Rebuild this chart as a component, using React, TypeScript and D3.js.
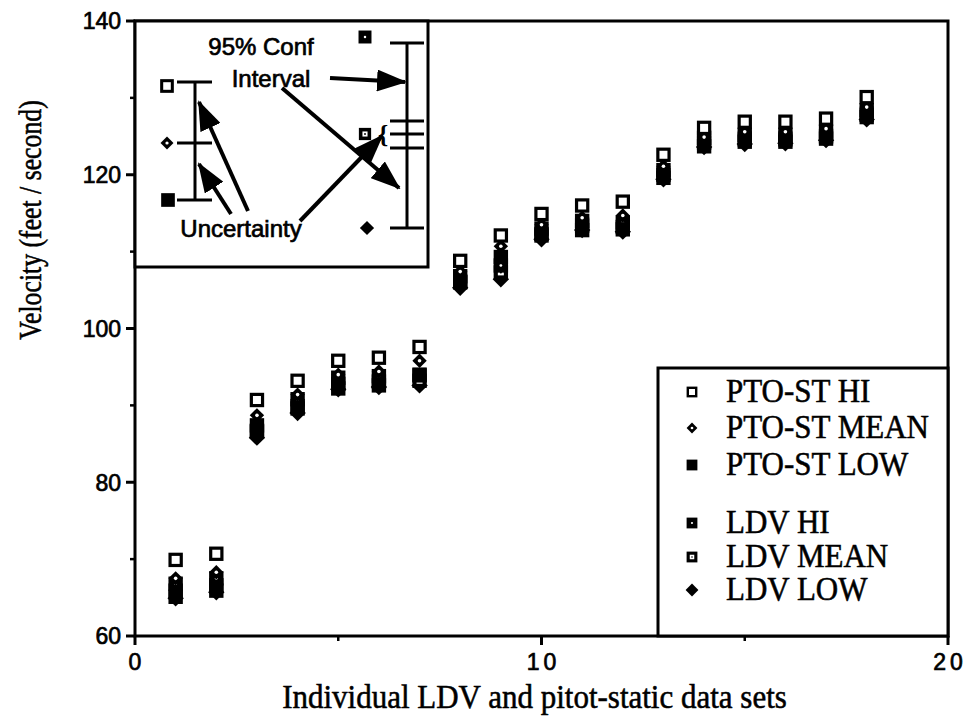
import React from "react";
import * as d3 from "d3";

const W = 969;
const H = 724;

// data sets 1..18
const dataSets = [1, 2, 3, 4, 5, 6, 7, 8, 9, 10, 11, 12, 13, 14, 15, 16, 17, 18];
const ptoHi = [69.9, 70.7, 90.7, 93.2, 95.8, 96.2, 97.6, 108.8, 112.1, 114.9, 116.0, 116.5, 122.6, 126.1, 126.9, 126.9, 127.3, 130.1];
const ptoMean = [67.5, 68.3, 88.7, 91.4, 94.0, 94.4, 95.8, 107.4, 110.7, 113.5, 114.4, 114.7, 121.1, 124.9, 125.6, 125.6, 126.0, 128.8];
const ptoLow = [65.1, 65.9, 86.7, 89.6, 92.2, 92.6, 94.0, 106.0, 109.3, 112.1, 112.8, 112.9, 119.6, 123.7, 124.3, 124.3, 124.7, 127.5];
const ldvHi = [66.8, 67.5, 87.4, 90.8, 93.6, 93.8, 93.9, 106.8, 108.2, 113.0, 114.0, 113.8, 120.6, 124.8, 125.2, 125.2, 125.6, 128.4];
const ldvMean = [65.9, 66.6, 86.6, 89.9, 92.8, 93.1, 93.2, 106.1, 107.3, 112.3, 113.4, 113.2, 120.0, 124.2, 124.6, 124.6, 125.0, 127.8];
const ldvLow = [64.9, 65.7, 85.8, 89.0, 92.1, 92.4, 92.6, 105.3, 106.4, 111.6, 112.8, 112.6, 119.4, 123.6, 124.0, 124.1, 124.5, 127.2];

const yTicks = [60, 80, 100, 120, 140];
const yMinorTicks = [70, 90, 110, 130];
const xTicks = [0, 10, 20];
const xMinorTicks = [5, 15];

const legendLabels = ["PTO-ST HI", "PTO-ST MEAN", "PTO-ST LOW", "LDV HI", "LDV MEAN", "LDV LOW"];
const legendKinds = ["openSquare", "openDiamond", "filledSquare", "dotSquare", "ringSquare", "filledDiamond"];

const xTitle = "Individual LDV and pitot-static data sets";
const yTitle = "Velocity  (feet / second)";

const margin = { left: 135, right: 21, top: 21, bottom: 88 };

function Marker({ kind, x, y, s = 1 }: { kind: string; x: number; y: number; s?: number }) {
  const h = 7.2 * s;
  switch (kind) {
    case "openSquare":
      return <rect x={x - h + 1.6 * s} y={y - h + 1.6 * s} width={2 * h - 3.2 * s} height={2 * h - 3.2 * s} fill="#fff" stroke="#000" strokeWidth={3.2 * s} />;
    case "openDiamond":
      return (
        <g>
          <path d={`M${x},${y - h}L${x + h},${y}L${x},${y + h}L${x - h},${y}Z`} fill="#000" />
          <circle cx={x} cy={y} r={1.8 * s} fill="#fff" />
        </g>
      );
    case "filledSquare":
      return <rect x={x - h} y={y - h} width={2 * h} height={2 * h} fill="#000" />;
    case "dotSquare":
      return (
        <g>
          <rect x={x - h} y={y - h} width={2 * h} height={2 * h} fill="#000" />
          <circle cx={x} cy={y} r={1.4 * s} fill="#fff" />
        </g>
      );
    case "ringSquare":
      return (
        <g>
          <rect x={x - h} y={y - h} width={2 * h} height={2 * h} fill="#000" />
          <rect x={x - 3 * s} y={y - 3 * s} width={6 * s} height={6 * s} fill="#fff" />
          <circle cx={x} cy={y} r={1.1 * s} fill="#000" />
        </g>
      );
    case "filledDiamond":
    default:
      return <path d={`M${x},${y - h - 1}L${x + h + 1},${y}L${x},${y + h + 1}L${x - h - 1},${y}Z`} fill="#000" />;
  }
}

export default function App() {
  const x = d3.scaleLinear().domain([0, 20]).range([margin.left, W - margin.right]);
  const y = d3.scaleLinear().domain([60, 140]).range([H - margin.bottom, margin.top]);
  const x0 = x(0), x1 = x(20), y0 = y(60), y1 = y(140);

  const drawSeries = [
    { vals: ldvLow, kind: "filledDiamond" },
    { vals: ldvMean, kind: "ringSquare" },
    { vals: ldvHi, kind: "dotSquare" },
    { vals: ptoLow, kind: "filledSquare" },
    { vals: ptoMean, kind: "openDiamond" },
    { vals: ptoHi, kind: "openSquare" },
  ];

  const sans = "'Liberation Sans', Arial, Helvetica, sans-serif";
  const serif = "'Liberation Serif', 'Times New Roman', serif";
  const thickS = { stroke: "#000", strokeWidth: 0.7, paintOrder: "stroke" } as any;
  const thickT = { stroke: "#000", strokeWidth: 0.5, paintOrder: "stroke" } as any;

  // inset box
  const inset = { x: x0, y: y1, w: 293, h: 246 };
  // legend box
  const lg = { x: 658, y: 368, w: x1 - 658, h: y0 - 368 };
  const legendY = [392, 428, 465, 523, 557, 590];

  const arrows: [number, number, number, number][] = [
    [248, 211, 199, 102],
    [231, 214, 199, 164],
    [330, 78, 405, 82],
    [282, 88, 399, 188],
    [300, 221, 382, 136],
  ];

  return (
    <div style={{ position: "absolute", left: 0, top: 0 }}>
      <svg width={W} height={H} style={{ display: "block", background: "#fff" }}>
        <defs>
          <marker id="ah" markerUnits="userSpaceOnUse" markerWidth={30} markerHeight={22} refX={28} refY={11} orient="auto">
            <path d="M0,0L30,11L0,22Z" fill="#000" />
          </marker>
        </defs>
        <rect x={0} y={0} width={W} height={H} fill="#fff" />

        {/* data */}
        {drawSeries.map((s, si) => (
          <g key={si}>
            {dataSets.map((d, i) => (
              <Marker key={i} kind={s.kind} x={x(d)} y={y(s.vals[i])} />
            ))}
          </g>
        ))}

        {/* frame */}
        <rect x={x0} y={y1} width={x1 - x0} height={y0 - y1} fill="none" stroke="#000" strokeWidth={3} />

        {/* y ticks */}
        {yTicks.map((t) => (
          <g key={t}>
            <line x1={x0 - 9} x2={x0} y1={y(t)} y2={y(t)} stroke="#000" strokeWidth={3} />
            <text x={x0 - 14} y={y(t)} dy="0.36em" textAnchor="end" fontFamily={sans} fontSize={23} {...thickS}>{t}</text>
          </g>
        ))}
        {yMinorTicks.map((t) => (
          <line key={t} x1={x0 - 5} x2={x0} y1={y(t)} y2={y(t)} stroke="#000" strokeWidth={2.5} />
        ))}
        {/* x ticks */}
        {xTicks.map((t) => (
          <g key={t}>
            <line x1={x(t)} x2={x(t)} y1={y0} y2={y0 + 9} stroke="#000" strokeWidth={3} />
            <text x={x(t) + (t === 0 ? 0 : 2)} y={y0 + 34} textAnchor="middle" fontFamily={sans} fontSize={23} letterSpacing={t === 0 ? 0 : 4} {...thickS}>{t}</text>
          </g>
        ))}
        {xMinorTicks.map((t) => (
          <line key={t} x1={x(t)} x2={x(t)} y1={y0} y2={y0 + 5} stroke="#000" strokeWidth={2.5} />
        ))}

        {/* titles */}
        <text transform={`translate(${(x0 + x1) / 2 - 7},708) scale(1,1.12)`} textAnchor="middle" fontFamily={serif} fontSize={31} {...thickT}>{xTitle}</text>
        <text transform={`translate(41,220) rotate(-90) scale(0.92,1.1)`} textAnchor="middle" fontFamily={serif} fontSize={28} {...thickT}>{yTitle}</text>

        {/* inset */}
        <g>
          <rect x={inset.x} y={inset.y} width={inset.w} height={inset.h} fill="#fff" stroke="#000" strokeWidth={3} />
          <Marker kind="openSquare" x={167} y={86} s={0.95} />
          <Marker kind="openDiamond" x={167} y={143} s={0.9} />
          <Marker kind="filledSquare" x={168} y={200} s={0.95} />
          <line x1={195} x2={195} y1={82} y2={200} stroke="#000" strokeWidth={3} />
          <line x1={177} x2={212} y1={82} y2={82} stroke="#000" strokeWidth={3} />
          <line x1={177} x2={212} y1={143} y2={143} stroke="#000" strokeWidth={3} />
          <line x1={177} x2={212} y1={200} y2={200} stroke="#000" strokeWidth={3} />

          <Marker kind="dotSquare" x={365} y={37} s={0.9} />
          <Marker kind="ringSquare" x={365} y={134} s={0.85} />
          <Marker kind="filledDiamond" x={367} y={228} s={0.85} />
          <line x1={407} x2={407} y1={43} y2={228} stroke="#000" strokeWidth={3} />
          <line x1={390} x2={424} y1={43} y2={43} stroke="#000" strokeWidth={3} />
          <line x1={390} x2={424} y1={228} y2={228} stroke="#000" strokeWidth={3} />
          <line x1={390} x2={424} y1={121} y2={121} stroke="#000" strokeWidth={3} />
          <line x1={390} x2={424} y1={134} y2={134} stroke="#000" strokeWidth={3} />
          <line x1={390} x2={424} y1={148} y2={148} stroke="#000" strokeWidth={3} />
          <text x={383} y={143} textAnchor="middle" fontFamily={serif} fontSize={26} fontWeight="bold">{"{"}</text>

          {arrows.map((a, i) => (
            <line key={i} x1={a[0]} y1={a[1]} x2={a[2]} y2={a[3]} stroke="#000" strokeWidth={4} markerEnd="url(#ah)" />
          ))}

          <text x={261} y={55} textAnchor="middle" fontFamily={sans} fontSize={24} {...thickS}>95% Conf</text>
          <text x={271} y={87} textAnchor="middle" fontFamily={sans} fontSize={24} {...thickS}>Interval</text>
          <text x={241} y={237} textAnchor="middle" fontFamily={sans} fontSize={24} {...thickS}>Uncertainty</text>
        </g>

        {/* legend */}
        <g>
          <rect x={lg.x} y={lg.y} width={lg.w} height={lg.h} fill="#fff" stroke="#000" strokeWidth={3} />
          {legendLabels.map((l, i) => (
            <g key={l}>
              <Marker kind={legendKinds[i]} x={692} y={legendY[i]} s={0.75} />
              <text transform={`translate(726,${legendY[i] + 10}) scale(1,1.06)`} fontFamily={serif} fontSize={31} {...thickT}>{l}</text>
            </g>
          ))}
        </g>
      </svg>
    </div>
  );
}
